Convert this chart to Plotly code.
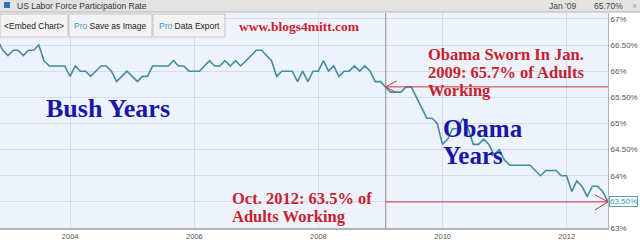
import plotly.graph_objects as go
import pandas as pd

# ---- data (monthly US labor force participation rate, %) ----
rate_2002_tail = [66.6, 66.4, 66.3]  # Oct-Dec 2002
rate_2003 = [66.4, 66.4, 66.3, 66.4, 66.4, 66.5, 66.2, 66.1, 66.1, 66.1, 66.1, 65.9]
rate_2004 = [66.1, 66.0, 66.0, 65.9, 66.0, 66.1, 66.1, 66.0, 65.8, 65.9, 66.0, 65.9]
rate_2005 = [65.8, 65.9, 65.9, 66.1, 66.1, 66.1, 66.1, 66.2, 66.1, 66.1, 66.0, 66.0]
rate_2006 = [66.0, 66.1, 66.2, 66.1, 66.1, 66.2, 66.1, 66.2, 66.1, 66.2, 66.3, 66.4]
rate_2007 = [66.4, 66.3, 66.2, 65.9, 66.0, 66.0, 66.0, 65.8, 66.0, 65.8, 66.0, 66.0]
rate_2008 = [66.2, 66.0, 66.1, 65.9, 66.0, 66.0, 66.1, 66.0, 66.1, 66.0, 65.8, 65.8]
rate_2009 = [65.7, 65.6, 65.6, 65.6, 65.7, 65.7, 65.5, 65.3, 65.1, 65.1, 65.0, 64.6]
rate_2010 = [64.7, 64.9, 64.9, 65.1, 64.9, 64.6, 64.6, 64.7, 64.6, 64.4, 64.5, 64.3]
rate_2011 = [64.2, 64.2, 64.2, 64.2, 64.2, 64.1, 64.0, 64.1, 64.1, 64.1, 64.0, 64.0]
rate_2012 = [63.7, 63.9, 63.8, 63.6, 63.8, 63.8, 63.7, 63.5]  # Jan-Aug 2012

rate = (rate_2002_tail + rate_2003 + rate_2004 + rate_2005 + rate_2006 + rate_2007
        + rate_2008 + rate_2009 + rate_2010 + rate_2011 + rate_2012)
start_month = "2002-10-31"
dates = pd.date_range(start_month, periods=len(rate), freq="ME")

sworn_date = "2009-01-31"
sworn_value = 65.7
last_date = dates[-1]
last_value = rate[-1]

y_ticks = [63, 63.5, 64, 64.5, 65, 65.5, 66, 66.5, 67]
y_ticktext = ["63%", "63.50%", "64%", "64.50%", "65%", "65.50%", "66%", "66.50%", "67%"]

# ---- layout helpers (pixel -> paper) ----
W, H = 640, 245
ML, MR, MT, MB = 0, 32, 13, 17
PW = W - ML - MR
PH = H - MT - MB


def px(x):
    return (x - ML) / PW


def py(y):
    return (H - MB - y) / PH


RED = "#c5222f"
NAVY = "#1818a4"
TEAL = "#3f8f9f"
SANS = "Liberation Sans, Arial, sans-serif"
SERIF = "Liberation Serif, Times New Roman, serif"

fig = go.Figure()
fig.add_trace(go.Scatter(x=dates, y=rate, mode="lines",
                         line=dict(color=TEAL, width=1.6), hoverinfo="skip",
                         showlegend=False))

shapes = []
# crosshair at Jan '09
shapes.append(dict(type="line", xref="x", yref="paper", x0=sworn_date, x1=sworn_date,
                   y0=0, y1=1, line=dict(color="#8a8a8a", width=1), layer="above"))
# red arrow lines
shapes.append(dict(type="line", xref="x", yref="y", x0=sworn_date, x1=last_date,
                   y0=sworn_value, y1=sworn_value, line=dict(color="#cc3344", width=1), layer="above"))
shapes.append(dict(type="line", xref="x", yref="y", x0=sworn_date, x1=last_date,
                   y0=last_value, y1=last_value, line=dict(color="#cc3344", width=1), layer="above"))
# arrow barbs
for dy in (6, -6):
    shapes.append(dict(type="line", xref="x", yref="y", xsizemode="pixel", ysizemode="pixel",
                       xanchor=sworn_date, yanchor=sworn_value, x0=0, x1=11, y0=0, y1=dy,
                       line=dict(color="#cc3344", width=1), layer="above"))
for dy in (7, -8):
    shapes.append(dict(type="line", xref="x", yref="y", xsizemode="pixel", ysizemode="pixel",
                       xanchor=last_date, yanchor=last_value, x0=0, x1=-13, y0=0, y1=dy,
                       line=dict(color="#cc3344", width=1), layer="above"))

# title bar
shapes.append(dict(type="rect", xref="paper", yref="paper", x0=px(0), x1=px(W),
                   y0=py(12), y1=py(0), fillcolor="#e3e3e3", line=dict(width=0), layer="above"))
shapes.append(dict(type="line", xref="paper", yref="paper", x0=px(0), x1=px(W),
                   y0=py(12), y1=py(12), line=dict(color="#b0b0b0", width=1), layer="above"))
shapes.append(dict(type="rect", xref="paper", yref="paper", x0=px(4), x1=px(10),
                   y0=py(8), y1=py(2), fillcolor="#2f6fce", line=dict(width=0), layer="above"))
# toolbar buttons
buttons = [(0, 68, "&lt;Embed Chart&gt;"),
           (69, 152, "<span style='color:#3b9ac9'>Pro</span> Save as Image"),
           (153, 225, "<span style='color:#3b9ac9'>Pro</span> Data Export")]
for x0, x1, _ in buttons:
    shapes.append(dict(type="rect", xref="paper", yref="paper", x0=px(x0), x1=px(x1),
                       y0=py(37), y1=py(14), fillcolor="#f3f3f3",
                       line=dict(color="#c4c4c4", width=1), layer="above"))

annotations = []


def txt(x, y, text, size, color, family=SANS, bold=False, xanchor="left", **kw):
    t = f"<b>{text}</b>" if bold else text
    annotations.append(dict(xref="paper", yref="paper", x=px(x), y=py(y), text=t,
                            showarrow=False, xanchor=xanchor, yanchor="middle",
                            font=dict(size=size, color=color, family=family), **kw))


txt(15, 6, "US Labor Force Participation Rate", 8.5, "#333333")
txt(547, 6, "Jan '09", 8.5, "#444444")
txt(592, 6, "65.70%", 8.5, "#444444")
txt(630, 6, "×", 8.5, "#999999")
for x0, x1, label in buttons:
    txt((x0 + x1) / 2, 26, label, 8.5, "#222222", xanchor="center")
txt(237, 26, "www.blogs4mitt.com", 13.5, "#d0202e", family=SERIF, bold=True)

txt(44, 108, "Bush Years", 26, NAVY, family=SERIF, bold=True)
txt(441, 128, "Obama", 25, NAVY, family=SERIF, bold=True)
txt(441, 155, "Years", 25, NAVY, family=SERIF, bold=True)

txt(426, 54, "Obama Sworn In Jan.", 16.5, RED, family=SERIF, bold=True)
txt(426, 72, "2009: 65.7% of Adults", 16.5, RED, family=SERIF, bold=True)
txt(426, 90, "Working", 16.5, RED, family=SERIF, bold=True)
txt(230, 198, "Oct. 2012: 63.5% of", 16.5, RED, family=SERIF, bold=True)
txt(230, 216.5, "Adults Working", 16.5, RED, family=SERIF, bold=True)

# last value tag
annotations.append(dict(xref="paper", yref="y", x=px(609), y=last_value, text="63.50%",
                        showarrow=False, xanchor="left", yanchor="middle",
                        font=dict(size=8, color="#3a94a8", family=SANS),
                        bgcolor="white", bordercolor="#5aa5b5", borderwidth=1, borderpad=0))

fig.update_layout(
    width=W, height=H,
    margin=dict(l=ML, r=MR, t=MT, b=MB, pad=0),
    paper_bgcolor="white", plot_bgcolor="#eef2fa",
    shapes=shapes, annotations=annotations,
    xaxis=dict(type="date", range=["2002-11-14", "2012-08-31"], tick0="2004-01-01",
               dtick="M24", tickformat="%Y", showgrid=True, gridcolor="#d7dde8",
               showline=True, linecolor="#b5b5b5", linewidth=2, ticks="",
               tickfont=dict(size=7.5, color="#555555", family=SANS), zeroline=False),
    yaxis=dict(side="right", range=[63, 67.113], tickvals=y_ticks, ticktext=y_ticktext,
               showgrid=True, gridcolor="#d7dde8", showline=True, linecolor="#b5b5b5",
               linewidth=1, ticks="", tickfont=dict(size=8, color="#555555", family=SANS),
               zeroline=False),
)

fig.write_html("out.html")
